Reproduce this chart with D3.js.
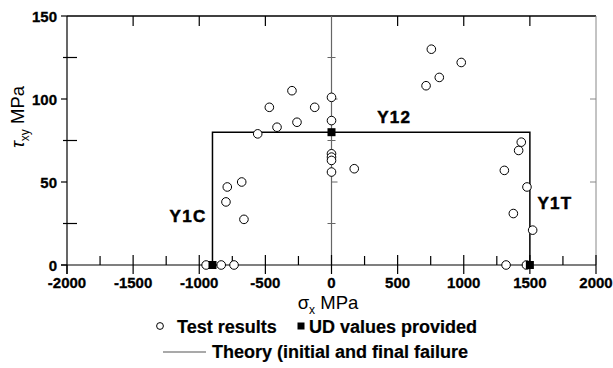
<!DOCTYPE html>
<html><head><meta charset="utf-8">
<script src="https://cdn.jsdelivr.net/npm/d3@7"></script>
<style>body{margin:0;background:#fff}svg{display:block}</style>
</head><body>
<svg id="c" width="613" height="368"></svg>
<script>
const xTicks = [-2000,-1500,-1000,-500,0,500,1000,1500,2000];
const xMinor = [-1750,-1250,-750,-250,250,750,1250,1750];
const yTicks = [0,50,100,150];
const yMinor = [25,75,125];
const testX = [-948,-834,-737,-798,-788,-679,-662,-558,-470,-412,-299,-261,-127,0,0,0,0,0,0,172,715,755,815,981,1435,1415,1307,1478,1375,1521,1320,1474];
const testY = [0,0,0,38,47,50,27.5,79,95,83,105,86,95,101,87,67,65,63,56,58,108,130,113,122,74,69,57,47,31,21,0,0];
const udX = [-900,0,1500];
const udY = [0,80,0];
const theoryX = [-900,-900,1500,1500];
const theoryY = [0,80,80,0];
const regionLabels = ["Y1C","Y12","Y1T"];
const regionX = [-1089,470,1685];
const regionY = [26,85.4,33.6];

const svg = d3.select("#c");
const x = d3.scaleLinear().domain([-2000,2000]).range([67,596]);
const y = d3.scaleLinear().domain([0,150]).range([265,16]);
const ff = "'Liberation Sans', Arial, sans-serif";

// frame: top & right
svg.append("line").attr("x1",x(-2000)).attr("x2",x(2000)).attr("y1",y(150)).attr("y2",y(150)).attr("stroke","#000").attr("stroke-width",1.3);
svg.append("line").attr("x1",x(2000)).attr("x2",x(2000)).attr("y1",y(150)).attr("y2",y(0)).attr("stroke","#888").attr("stroke-width",1);
// top ticks
svg.selectAll(".tt").data(xTicks.filter(d=>d!==0 && Math.abs(d)!==2000)).enter().append("line")
  .attr("x1",d=>x(d)).attr("x2",d=>x(d)).attr("y1",y(150)).attr("y2",y(150)+10).attr("stroke","#000").attr("stroke-width",1.2);
// right ticks
svg.selectAll(".rt").data([50,100]).enter().append("line")
  .attr("x1",x(2000)-6).attr("x2",x(2000)).attr("y1",d=>y(d)).attr("y2",d=>y(d)).attr("stroke","#888");
// center vertical axis
svg.append("line").attr("x1",x(0)).attr("x2",x(0)).attr("y1",y(150)).attr("y2",y(0)).attr("stroke","#666").attr("stroke-width",1.2);
svg.selectAll(".cm").data(yMinor).enter().append("line")
  .attr("x1",x(0)-4).attr("x2",x(0)+4).attr("y1",d=>y(d)).attr("y2",d=>y(d)).attr("stroke","#666");
svg.selectAll(".cM").data([50,100]).enter().append("line")
  .attr("x1",x(0)).attr("x2",x(0)+6).attr("y1",d=>y(d)).attr("y2",d=>y(d)).attr("stroke","#666");

// bottom axis (at y=0)
svg.append("line").attr("x1",x(-2000)-6).attr("x2",x(2000)).attr("y1",y(0)).attr("y2",y(0)).attr("stroke","#000").attr("stroke-width",1.2);
svg.selectAll(".bM").data(xTicks).enter().append("line")
  .attr("x1",d=>x(d)).attr("x2",d=>x(d)).attr("y1",d=>d===-2000?y(0):y(0)-10).attr("y2",y(0)+9).attr("stroke","#000").attr("stroke-width",1.2);
svg.selectAll(".bm").data(xMinor).enter().append("line")
  .attr("x1",d=>x(d)).attr("x2",d=>x(d)).attr("y1",y(0)-9).attr("y2",y(0)).attr("stroke","#000").attr("stroke-width",1.2);
// left axis
svg.append("line").attr("x1",x(-2000)).attr("x2",x(-2000)).attr("y1",y(150)).attr("y2",y(0)+9).attr("stroke","#000").attr("stroke-width",1.2);
svg.selectAll(".lM").data(yTicks).enter().append("line")
  .attr("x1",x(-2000)-6).attr("x2",x(-2000)).attr("y1",d=>y(d)).attr("y2",d=>y(d)).attr("stroke","#000").attr("stroke-width",1.2);
svg.selectAll(".lm").data(yMinor).enter().append("line")
  .attr("x1",x(-2000)-4).attr("x2",x(-2000)+10).attr("y1",d=>y(d)).attr("y2",d=>y(d)).attr("stroke","#000").attr("stroke-width",1.2);

// tick labels
svg.selectAll(".xl").data(xTicks).enter().append("text")
  .attr("x",d=>x(d)).attr("y",288).attr("text-anchor","middle")
  .attr("font-family",ff).attr("font-weight","bold").attr("font-size",15)
  .attr("stroke","#000").attr("stroke-width",0.3).text(d=>d);
svg.selectAll(".yl").data(yTicks).enter().append("text")
  .attr("x",57).attr("y",d=>y(d)+5.5).attr("text-anchor","end")
  .attr("font-family",ff).attr("font-weight","bold").attr("font-size",15)
  .attr("stroke","#000").attr("stroke-width",0.3).text(d=>d);

// axis titles
const xt = svg.append("text").attr("x",328).attr("y",309).attr("text-anchor","middle")
  .attr("font-family",ff).attr("font-size",18.5);
xt.append("tspan").text("σ");
xt.append("tspan").attr("font-size",12).attr("dy",5).text("x");
xt.append("tspan").attr("dy",-5).text(" MPa");
const yt = svg.append("text").attr("transform","translate(24,117) rotate(-90)").attr("text-anchor","middle")
  .attr("font-family",ff).attr("font-size",18.5);
yt.append("tspan").attr("font-style","italic").text("τ");
yt.append("tspan").attr("font-size",12).attr("dy",5).text("xy");
yt.append("tspan").attr("dy",-5).text(" MPa");

// theory line
const line = d3.line().x(d=>x(d[0])).y(d=>y(d[1]));
svg.append("path").datum(theoryX.map((v,i)=>[v,theoryY[i]])).attr("d",line)
  .attr("fill","none").attr("stroke","#000").attr("stroke-width",1.5);

// test points
svg.selectAll(".pt").data(testX.map((v,i)=>[v,testY[i]])).enter().append("circle")
  .attr("cx",d=>x(d[0])).attr("cy",d=>y(d[1])).attr("r",4.3)
  .attr("fill","#fff").attr("stroke","#000").attr("stroke-width",1);
// UD points
svg.selectAll(".ud").data(udX.map((v,i)=>[v,udY[i]])).enter().append("rect")
  .attr("x",d=>x(d[0])-4).attr("y",d=>y(d[1])-4).attr("width",8).attr("height",8).attr("fill","#000");

// region labels
svg.selectAll(".rl").data(regionLabels).enter().append("text")
  .attr("x",(d,i)=>x(regionX[i])+0.6).attr("y",(d,i)=>y(regionY[i])).attr("text-anchor","middle")
  .attr("font-family",ff).attr("font-weight","bold").attr("font-size",17)
  .attr("letter-spacing",1.3).attr("stroke","#000").attr("stroke-width",0.5).text(d=>d);

// legend
const lg = svg.append("g").attr("font-family",ff).attr("font-weight","bold").attr("font-size",18)
  .attr("stroke","#000").attr("stroke-width",0.2);
lg.append("circle").attr("cx",160).attr("cy",326).attr("r",3.4).attr("fill","#fff").attr("stroke","#000").attr("stroke-width",1);
lg.append("text").attr("x",177).attr("y",332.5).text("Test results");
lg.append("rect").attr("x",297.5).attr("y",322.5).attr("width",7).attr("height",7).attr("fill","#000").attr("stroke","none");
lg.append("text").attr("x",309).attr("y",332.5).text("UD values provided");
lg.append("line").attr("x1",163).attr("x2",206).attr("y1",352).attr("y2",352).attr("stroke","#555").attr("stroke-width",1.2);
lg.append("text").attr("x",212).attr("y",357.5).text("Theory (initial and final failure");
</script>
</body></html>
